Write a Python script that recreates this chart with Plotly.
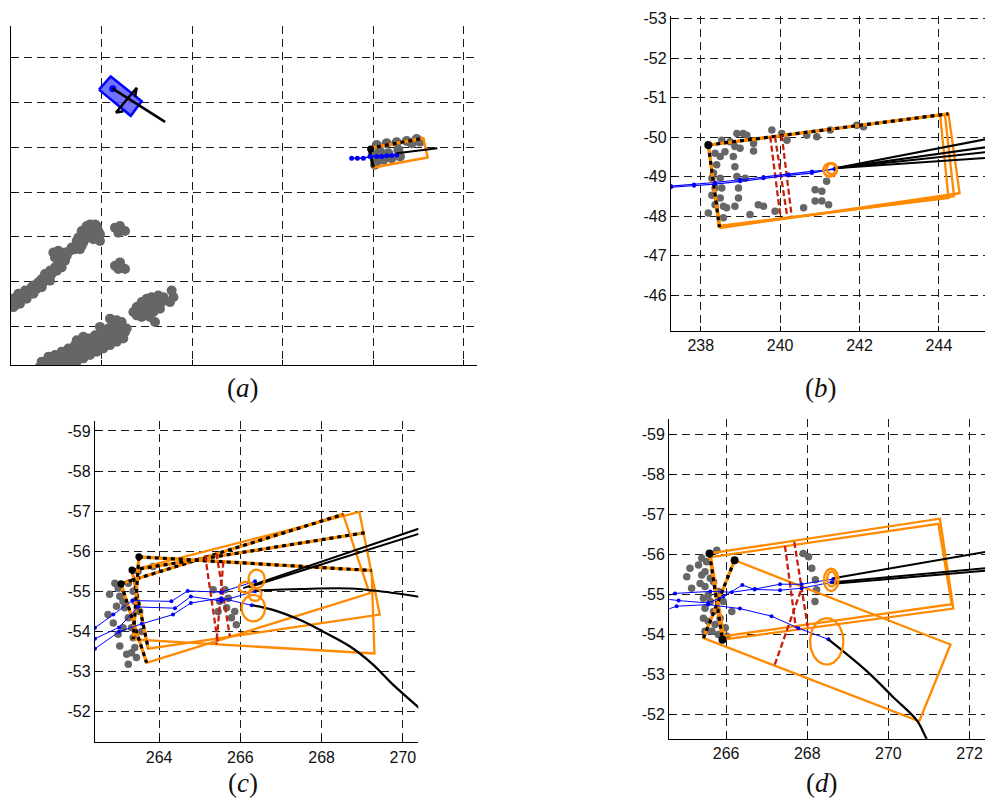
import numpy as np
import plotly.graph_objects as go

ORANGE = "#FF8A00"
BLUE = "#0000FF"
RED = "#C81E0A"
GRAY = "#666666"
BLACK = "#000000"

# ---------------- Panel (a) data (arbitrary units, no tick labels) ----------------
A_GRAY_X = [0.07, 0.63, 1.36, 2.1, 2.65, 3.2, 0.26, 0.99, 1.92, 2.84, 3.39, 3.94, 4.49, 5.05, 5.6, 4.31, 3.57,
            4.86, 5.41, 5.97, 6.52, 7.07, 7.62, 5.23, 6.15, 7.44, 7.99, 8.55, 9.1, 9.65, 8.18, 7.62, 9.47, 9.83,
            8.36, 9.28, 0.1, 0.44, 2.47, 3.02, 5.97, 7.81, 8.91,
            0.05, 0.07, 0.81, 1.55, 2.28, 3.02, 3.76, 4.31, 4.86, 5.41, 4.68, 5.23, 6.7, 7.26, 7.99, 7.81, 8.18,
            8.73, 9.47, 9.83, 8.55, 9.1, 7.26, 0.99, 1.73, 2.47, 3.39,
            11.49, 12.04, 12.6, 11.86,
            11.49, 12.04, 12.6, 11.86, 12.23,
            13.89, 14.44, 14.99, 15.54, 16.1, 16.65, 16.46, 15.73, 14.62, 13.89, 15.17, 15.91, 16.83, 16.28,
            15.36, 15.91, 17.75, 17.94, 17.57, 14.25, 14.81, 15.54, 16.28, 14.44, 14.99, 13.52,
            3.39, 3.94, 4.68, 5.41, 6.15, 6.89, 7.62, 8.36, 9.1, 9.83, 10.57, 11.31, 12.04, 12.6, 12.41, 11.68,
            10.94, 10.2, 9.47, 8.73, 7.99, 7.26, 6.52, 5.78, 5.23, 4.49, 7.62, 9.1, 10.57, 11.12, 9.83, 8.36,
            6.89, 6.15, 11.68, 7.99, 7.26,
            4.13, 4.86, 5.6, 6.34, 7.07, 7.81, 8.55, 9.28, 10.02, 10.75, 11.49, 12.23, 12.78, 3.76, 5.97, 6.7,
            8.18, 9.65, 11.12, 11.86, 10.2, 8.73, 7.26, 5.23, 4.31, 3.2, 10.94, 11.68,
            40.41, 41.51, 42.62, 43.72, 44.82, 40.04, 40.77, 41.69, 42.8, 40.41, 41.14, 42.06, 42.98, 40.22,
            45.19, 44.27]
A_GRAY_Y = [15.09, 16.57, 16.94, 18.04, 18.78, 19.52, 14.35, 15.83, 17.31, 18.41, 20.63, 21.0, 21.73, 22.47,
            23.21, 20.26, 19.89, 25.42, 26.16, 26.53, 26.9, 27.27, 27.27, 24.69, 25.79, 29.85, 30.59, 31.33,
            32.07, 31.33, 29.48, 28.75, 29.85, 29.11, 32.44, 32.8, 15.83, 14.72, 19.15, 18.78, 24.69, 28.01,
            30.59,
            15.46, 16.2, 17.31, 18.04, 18.78, 19.89, 21.73, 22.47, 23.21, 23.95, 26.53, 26.9, 27.64, 28.38,
            28.75, 31.33, 31.7, 32.8, 32.44, 30.59, 30.22, 29.48, 29.11, 15.09, 16.2, 17.31, 18.78,
            32.07, 32.44, 31.33, 30.96,
            23.58, 24.32, 22.84, 22.84, 23.21,
            14.35, 15.46, 16.2, 16.57, 16.2, 15.46, 13.99, 13.25, 12.88, 12.51, 14.72, 14.72, 16.57, 16.94,
            12.14, 11.03, 18.04, 16.57, 15.46, 13.62, 14.35, 15.46, 15.46, 12.14, 13.25, 13.25,
            2.18, 1.44, 2.55, 3.28, 4.02, 4.76, 5.5, 6.24, 6.97, 8.08, 8.82, 9.56, 9.93, 8.82, 7.34, 6.61,
            5.87, 5.13, 4.39, 3.65, 2.92, 2.18, 1.44, 1.81, 1.07, 1.07, 3.65, 5.5, 7.71, 11.4, 9.93, 4.76,
            3.28, 2.55, 8.45, 7.71, 6.97,
            3.28, 3.65, 4.39, 5.13, 5.87, 6.61, 7.34, 8.08, 8.82, 9.56, 10.66, 11.03, 9.56, 1.07, 1.07, 2.55,
            4.02, 6.24, 7.71, 7.71, 6.97, 5.13, 4.02, 2.18, 1.81, 1.07, 11.77, 11.4,
            50.52, 50.89, 51.11, 51.4, 51.85, 48.3, 49.04, 48.67, 49.41, 46.83, 47.2, 47.56, 47.93, 46.09,
            51.26, 50.89]
A_BLUE_RECT_X = [9.72, 11.02, 14.44, 13.23]
A_BLUE_RECT_Y = [62.85, 65.79, 60.26, 57.01]
A_BLUE_DOT_X = [11.24]
A_BLUE_DOT_Y = [63.07]
A_HEAD_X = [11.24, 17.02]
A_HEAD_Y = [63.07, 55.67]
A_GLYPH_X = [12.41, 11.6, 13.89, 13.7]
A_GLYPH_Y = [58.04, 57.75, 63.29, 61.21]
A_ORANGE_X = [39.56, 45.56, 46.04, 40.04]
A_ORANGE_Y = [49.78, 51.99, 47.71, 45.5]
A_BLUE_TRACK_X = [37.64, 38.27, 38.93, 39.67, 40.41, 40.96, 41.51, 42.06, 42.62]
A_BLUE_TRACK_Y = [47.56, 47.56, 47.56, 47.93, 47.93, 47.93, 48.08, 48.15, 48.3]
A_BLACK_X = [42.62, 47.11]
A_BLACK_Y = [48.67, 49.78]

# ---------------- Panel (b) data ----------------
B_TICKS_X = [238, 240, 242, 244]
B_TICKS_Y = [-53, -52, -51, -50, -49, -48, -47, -46]
B_RECTS = [
    ([238.19, 244.03, 244.24, 238.45], [-49.8, -50.56, -48.46, -47.75]),
    ([238.19, 244.15, 244.38, 238.47], [-49.8, -50.57, -48.5, -47.72]),
    ([238.19, 244.24, 244.52, 238.5], [-49.8, -50.59, -48.58, -47.7]),
]
B_DASH_EDGES = [([238.19, 244.24], [-49.8, -50.59]), ([238.19, 238.47], [-49.8, -47.72])]
B_DOT_X = [238.19]
B_DOT_Y = [-49.8]
B_RED = [([239.75, 240.0], [-50.01, -48.04]), ([239.87, 240.17], [-50.01, -48.04]),
         ([240.04, 240.29], [-50.05, -48.0])]
B_BLUE_X = [237.25, 237.83, 238.36, 238.99, 239.58, 240.21, 240.8, 241.38]
B_BLUE_Y = [-48.73, -48.77, -48.81, -48.88, -48.96, -49.03, -49.09, -49.21]
B_BLUE2_Y = [-48.76, -48.8, -48.85, -48.92, -48.99, -49.06, -49.13, -49.18]
B_BLACK_END_Y = [-49.97, -49.76, -49.63, -49.48]
B_BLACK_START = (241.38, -49.21)
B_BLACK_END_X = 245.3
B_CIRC = [(241.26, -49.17, 0.17, 0.17), (241.3, -49.2, 0.13, 0.14)]
B_GRAY_X = [238.53, 238.74, 238.91, 239.07, 239.16, 238.86, 238.99, 238.36, 238.49, 238.61, 239.33, 238.4,
            238.32, 238.28, 238.49, 238.82, 238.86, 238.91, 239.12, 238.36, 238.53, 238.28, 238.49, 238.57,
            238.36, 238.19, 238.65, 238.86, 238.95, 239.24, 239.45, 239.58, 239.87, 240.17, 239.79, 240.04,
            240.67, 240.92, 241.26, 241.93, 242.1, 240.88, 241.05, 241.17, 240.88, 241.05, 241.22, 240.59,
            238.57, 238.95, 239.33]
B_GRAY_Y = [-49.92, -49.88, -50.09, -50.09, -50.05, -49.76, -49.72, -49.59, -49.51, -49.63, -49.65, -49.3,
            -49.09, -48.96, -48.96, -49.51, -49.25, -49.0, -48.96, -48.71, -48.71, -48.53, -48.46, -48.25,
            -48.29, -48.08, -48.21, -48.25, -48.46, -48.04, -48.29, -48.25, -48.12, -49.92, -50.18, -50.09,
            -50.05, -50.01, -50.18, -50.3, -50.26, -48.67, -48.63, -48.88, -48.38, -48.38, -48.29, -48.21,
            -47.96, -48.71, -49.84]

# ---------------- Panel (c) data ----------------
C_TICKS_X = [264, 266, 268, 270]
C_TICKS_Y = [-59, -58, -57, -56, -55, -54, -53, -52]
C_RECTS = [
    ([263.06, 268.53, 269.18, 263.69], [-55.19, -56.92, -54.95, -53.22]),
    ([263.33, 268.93, 269.43, 263.73], [-55.53, -56.98, -54.42, -53.57]),
    ([263.5, 269.23, 269.3, 263.36], [-55.86, -55.52, -53.45, -53.8]),
]
C_DASH_EDGES = [([263.06, 268.53], [-55.19, -56.92]), ([263.33, 269.06], [-55.53, -56.46]),
                ([263.5, 269.23], [-55.86, -55.52]), ([263.06, 263.69], [-55.19, -53.22]),
                ([263.33, 263.73], [-55.53, -53.57]), ([263.5, 263.36], [-55.86, -53.8])]
C_DOT_X = [263.06, 263.33, 263.5]
C_DOT_Y = [-55.19, -55.53, -55.86]
C_RED = [([265.13, 265.45], [-55.9, -53.68]), ([265.41, 265.74], [-55.95, -53.88]),
         ([265.58, 265.41], [-55.74, -53.68])]
C_BLUE = [
    ([262.42, 262.87, 263.34, 264.3, 264.7, 265.53, 266.36], [-54.09, -54.42, -54.77, -54.75, -55.01, -54.98, -55.25]),
    ([262.42, 263.01, 263.48, 264.39, 264.78, 265.53, 266.36], [-53.82, -54.1, -54.61, -54.58, -54.87, -54.76, -55.0]),
    ([262.42, 263.01, 263.57, 264.34, 264.78, 265.53, 266.28], [-53.57, -53.99, -54.19, -54.42, -54.71, -54.83, -54.65]),
]
C_BLACK_LINES = [([266.07, 270.5], [-55.08, -56.6]), ([266.2, 270.5], [-55.1, -56.47])]
C_FLAT_X = [266.36, 267.5, 268.7, 269.44, 270.5]
C_FLAT_Y = [-55.02, -55.06, -55.07, -55.0, -54.85]
C_CURVE_X = [266.31, 266.8, 267.46, 268.03, 268.69, 269.26, 269.75, 270.37, 270.6]
C_CURVE_Y = [-54.65, -54.54, -54.29, -54.0, -53.63, -53.18, -52.68, -52.12, -51.9]
C_ELLIPSES = [(266.14, -55.1, 0.18, 0.14), (266.4, -55.31, 0.2, 0.23), (266.36, -54.92, 0.16, 0.16),
              (266.32, -54.58, 0.29, 0.33)]
C_GRAY_X = [262.91, 262.78, 262.74, 262.87, 262.99, 263.03, 263.2, 263.24, 263.11, 263.15, 263.24, 263.32,
            263.36, 263.4, 263.44, 263.36, 263.4, 263.52, 263.03, 262.95, 263.48, 263.85, 263.24, 262.99,
            263.57, 263.32, 263.11, 265.33, 265.62, 265.49, 265.45, 265.7, 265.86, 265.78, 265.9, 265.66]
C_GRAY_Y = [-55.2, -54.93, -54.42, -54.21, -53.93, -53.64, -53.43, -53.18, -54.75, -54.59, -54.34, -54.09,
            -53.84, -53.6, -53.35, -55.0, -54.75, -54.5, -54.88, -54.63, -55.5, -55.62, -55.2, -55.08, -54.0,
            -53.47, -54.09, -55.04, -55.04, -54.75, -54.5, -54.83, -54.5, -54.34, -54.17, -54.59]

# ---------------- Panel (d) data ----------------
D_TICKS_X = [266, 268, 270, 272]
D_TICKS_Y = [-59, -58, -57, -56, -55, -54, -53, -52]
D_RECTS = [
    ([265.59, 271.27, 271.6, 265.91], [-56.02, -56.89, -54.64, -53.86]),
    ([265.63, 271.23, 271.56, 265.95], [-55.93, -56.76, -54.75, -53.95]),
    ([266.21, 271.53, 270.76, 265.44], [-55.85, -53.74, -51.82, -53.9]),
]
D_DASH_EDGES = [([265.59, 265.91], [-56.02, -53.86]), ([266.21, 265.44], [-55.85, -53.9])]
D_DOT_X = [265.59, 266.21, 265.91]
D_DOT_Y = [-56.02, -55.85, -53.86]
D_RED = [([267.45, 267.72], [-56.21, -54.15]), ([267.68, 268.01], [-56.31, -54.19]),
         ([267.2, 267.88], [-53.24, -55.2])]
D_BLUE = [
    ([264.5, 264.74, 265.61, 266.14, 266.71, 267.33, 267.86, 268.64],
     [-54.95, -55.02, -55.07, -55.05, -55.13, -55.25, -55.25, -55.38]),
    ([264.5, 264.83, 265.56, 265.93, 266.4, 266.7, 267.33, 267.86, 268.6],
     [-54.88, -54.84, -54.78, -54.94, -55.23, -55.12, -55.1, -55.15, -55.3]),
    ([264.5, 264.78, 265.56, 266.34, 267.12, 267.78, 268.52],
     [-54.6, -54.7, -54.74, -54.64, -54.45, -54.15, -53.87]),
]
D_BLACK_LINES = [([268.64, 272.5], [-55.4, -56.08]), ([268.64, 272.5], [-55.3, -55.66]),
                 ([268.64, 272.5], [-55.26, -55.6])]
D_CURVE_X = [268.52, 269.46, 270.12, 270.7, 270.94, 271.1]
D_CURVE_Y = [-53.87, -53.08, -52.42, -51.84, -51.38, -51.1]
D_ELLIPSES = [(268.59, -55.36, 0.18, 0.28), (268.6, -55.38, 0.11, 0.19), (268.48, -53.82, 0.41, 0.58)]
D_GRAY_X = [265.11, 265.32, 265.4, 265.03, 265.15, 265.48, 265.36, 265.48, 265.56, 265.44, 265.61, 265.48,
            265.69, 265.44, 265.56, 265.73, 265.65, 265.81, 265.98, 265.93, 266.14, 265.77, 265.52, 265.61,
            265.81, 265.4, 265.69, 265.85, 265.48, 266.02,
            267.9, 268.03, 268.11, 268.2, 268.23, 268.19]
D_GRAY_Y = [-55.65, -55.73, -55.48, -55.44, -55.15, -55.56, -55.27, -55.19, -54.98, -54.9, -54.82, -54.65,
            -54.57, -54.4, -54.32, -54.24, -54.07, -53.99, -54.16, -54.82, -54.57, -56.1, -55.81, -55.4,
            -55.07, -55.9, -55.31, -54.4, -54.07, -53.95,
            -56.02, -55.94, -55.65, -55.36, -55.11, -54.82]

fig = go.Figure()


def ax_names(p):
    return ("x", "y") if p == 1 else (f"x{p}", f"y{p}")


def add_line(p, xs, ys, color, width, dash="solid", shape="linear"):
    xa, ya = ax_names(p)
    fig.add_trace(go.Scatter(x=xs, y=ys, mode="lines", xaxis=xa, yaxis=ya, hoverinfo="skip",
                             line=dict(color=color, width=width, dash=dash, shape=shape)))


def add_pts(p, xs, ys, color, size, mode="markers", width=1):
    xa, ya = ax_names(p)
    fig.add_trace(go.Scatter(x=xs, y=ys, mode=mode, xaxis=xa, yaxis=ya, hoverinfo="skip",
                             marker=dict(color=color, size=size), line=dict(color=color, width=width)))


def closed(xs, ys):
    return list(xs) + [xs[0]], list(ys) + [ys[0]]


def ellipse(cx, cy, rx, ry):
    t = np.linspace(0, 2 * np.pi, 80)
    return cx + rx * np.cos(t), cy + ry * np.sin(t)


def dash_edge(p, xs, ys):
    add_line(p, xs, ys, ORANGE, 3.2)
    add_line(p, xs, ys, BLACK, 3.2, dash="4px,4px")


# ---- Panel (a)
add_pts(1, A_GRAY_X, A_GRAY_Y, GRAY, 10)
xa, ya = ax_names(1)
bx, by = closed(A_BLUE_RECT_X, A_BLUE_RECT_Y)
fig.add_trace(go.Scatter(x=bx, y=by, mode="lines", fill="toself", fillcolor="rgba(90,90,255,0.85)",
                         line=dict(color=BLUE, width=2.5), xaxis=xa, yaxis=ya, hoverinfo="skip"))
add_pts(1, A_BLUE_DOT_X, A_BLUE_DOT_Y, BLUE, 7)
add_line(1, A_HEAD_X, A_HEAD_Y, BLACK, 2.5)
add_line(1, A_GLYPH_X, A_GLYPH_Y, BLACK, 2.5)
ox, oy = closed(A_ORANGE_X, A_ORANGE_Y)
add_line(1, ox, oy, ORANGE, 2.5)
dash_edge(1, A_ORANGE_X[:2], A_ORANGE_Y[:2])
add_line(1, [A_ORANGE_X[0], A_ORANGE_X[3]], [A_ORANGE_Y[0], A_ORANGE_Y[3]], BLACK, 3)
add_pts(1, [39.74], [49.63], BLACK, 7)
add_pts(1, A_BLUE_TRACK_X, A_BLUE_TRACK_Y, BLUE, 5, mode="lines+markers", width=1.5)
add_line(1, A_BLACK_X, A_BLACK_Y, BLACK, 2.2)

# ---- Panel (b)
add_pts(2, B_GRAY_X, B_GRAY_Y, GRAY, 7.5)
for rx, ry in B_RECTS:
    cx, cy = closed(rx, ry)
    add_line(2, cx, cy, ORANGE, 2.3)
for ex, ey in B_DASH_EDGES:
    dash_edge(2, ex, ey)
add_pts(2, B_DOT_X, B_DOT_Y, BLACK, 8)
for ex, ey in B_RED:
    add_line(2, ex, ey, RED, 2.3, dash="6px,3px")
add_pts(2, B_BLUE_X, B_BLUE_Y, BLUE, 4, mode="lines+markers", width=1.2)
add_pts(2, B_BLUE_X, B_BLUE2_Y, BLUE, 4, mode="lines+markers", width=1.2)
for ye in B_BLACK_END_Y:
    add_line(2, [B_BLACK_START[0], B_BLACK_END_X], [B_BLACK_START[1], ye], BLACK, 2)
for c in B_CIRC:
    exx, eyy = ellipse(*c)
    add_line(2, exx, eyy, ORANGE, 2.5)

# ---- Panel (c)
add_pts(3, C_GRAY_X, C_GRAY_Y, GRAY, 7.5)
for rx, ry in C_RECTS:
    cx, cy = closed(rx, ry)
    add_line(3, cx, cy, ORANGE, 2.3)
for ex, ey in C_DASH_EDGES:
    dash_edge(3, ex, ey)
add_pts(3, C_DOT_X, C_DOT_Y, BLACK, 7)
for ex, ey in C_RED:
    add_line(3, ex, ey, RED, 2.3, dash="6px,3px")
for bxs, bys in C_BLUE:
    add_pts(3, bxs, bys, BLUE, 4, mode="lines+markers", width=1)
for ex, ey in C_BLACK_LINES:
    add_line(3, ex, ey, BLACK, 2)
add_line(3, C_FLAT_X, C_FLAT_Y, BLACK, 2, shape="spline")
add_line(3, C_CURVE_X, C_CURVE_Y, BLACK, 2.3, shape="spline")
for c in C_ELLIPSES:
    exx, eyy = ellipse(*c)
    add_line(3, exx, eyy, ORANGE, 2.3)

# ---- Panel (d)
add_pts(4, D_GRAY_X, D_GRAY_Y, GRAY, 7.5)
for rx, ry in D_RECTS:
    cx, cy = closed(rx, ry)
    add_line(4, cx, cy, ORANGE, 2.3)
for ex, ey in D_DASH_EDGES:
    dash_edge(4, ex, ey)
add_pts(4, D_DOT_X, D_DOT_Y, BLACK, 8)
for ex, ey in D_RED:
    add_line(4, ex, ey, RED, 2.3, dash="6px,3px")
for bxs, bys in D_BLUE:
    add_pts(4, bxs, bys, BLUE, 4, mode="lines+markers", width=1)
for ex, ey in D_BLACK_LINES:
    add_line(4, ex, ey, BLACK, 2)
add_line(4, D_CURVE_X, D_CURVE_Y, BLACK, 2.3, shape="spline")
for c in D_ELLIPSES:
    exx, eyy = ellipse(*c)
    add_line(4, exx, eyy, ORANGE, 2.3)

W, H = 985, 802
TICKFONT = dict(family="Liberation Sans, Arial, sans-serif", size=16, color="#111111")


def axis_style(domain, rng, tickvals, show_labels, anchor):
    return dict(domain=domain, range=rng, tickvals=tickvals,
                ticktext=[str(v) for v in tickvals] if show_labels else None,
                showticklabels=show_labels, showgrid=True, gridcolor="#1a1a1a", gridwidth=1,
                griddash="8px,5px", zeroline=False, showline=True, linecolor=BLACK, linewidth=1.2,
                mirror=False, ticks="inside", ticklen=5, tickcolor=BLACK, tickwidth=1,
                tickfont=TICKFONT, anchor=anchor, fixedrange=True)


def px_dom_x(a, b):
    return [a / W, b / W]


def px_dom_y(top, bottom):
    return [1 - bottom / H, 1 - top / H]


layout = dict(
    width=W, height=H, margin=dict(l=0, r=0, t=0, b=0), showlegend=False,
    paper_bgcolor="white", plot_bgcolor="white",
    xaxis=axis_style(px_dom_x(11, 477), [0, 51.49], [0, 10, 20, 30, 40, 50], False, "y"),
    yaxis=axis_style(px_dom_y(20, 362), [1.37, 77.08], [10, 20, 30, 40, 50, 60, 70], False, "x"),
    xaxis2=axis_style(px_dom_x(671, 985), [237.25, 245.16], B_TICKS_X, True, "y2"),
    yaxis2=axis_style(px_dom_y(10, 327), [-45.1, -53.07], B_TICKS_Y, True, "x2"),
    xaxis3=axis_style(px_dom_x(95, 418.3), [262.42, 270.38], C_TICKS_X, True, "y3"),
    yaxis3=axis_style(px_dom_y(418, 741.7), [-51.24, -59.25], C_TICKS_Y, True, "x3"),
    xaxis4=axis_style(px_dom_x(669.3, 985), [264.6, 272.38], D_TICKS_X, True, "y4"),
    yaxis4=axis_style(px_dom_y(416, 738.3), [-51.38, -59.39], D_TICKS_Y, True, "x4"),
)
fig.update_layout(**layout)

LABELS = [("(<i>a</i>)", 243, 385), ("(<i>b</i>)", 821, 385), ("(<i>c</i>)", 243, 783), ("(<i>d</i>)", 822, 783)]
for txt, lx, ly in LABELS:
    fig.add_annotation(text=txt, x=lx / W, y=1 - ly / H, xref="paper", yref="paper", showarrow=False,
                       xanchor="center", yanchor="middle",
                       font=dict(family="Liberation Serif, Times New Roman, serif", size=27, color="#111111"))

fig.write_html("out.html", config={"displayModeBar": False, "staticPlot": True},
               post_script="document.body.style.margin='0';document.body.style.padding='0';"
                           "document.body.style.overflow='hidden';")
